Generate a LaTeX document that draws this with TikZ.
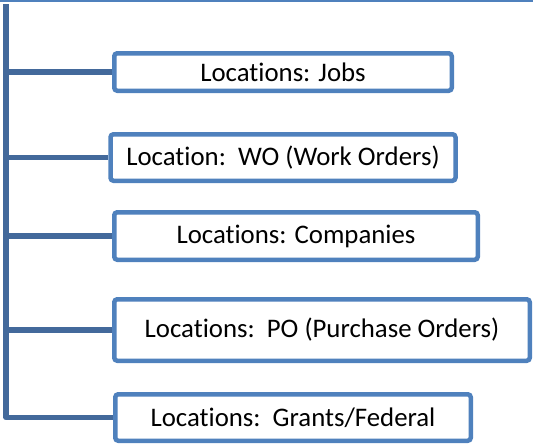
\documentclass[tikz,border=0pt]{standalone}
\usepackage{fontspec}
\setmainfont[Ligatures=NoCommon]{Carlito}
\definecolor{boxblue}{HTML}{4F81BD}
\definecolor{linkblue}{HTML}{43699B}
\begin{document}
\begin{tikzpicture}[x=1pt,y=-1pt,
  item/.style={draw=boxblue,line width=4.5pt,rounded corners=3pt,fill=white,
    inner sep=0pt,font=\fontsize{26.8}{30}\selectfont},
  link/.style={draw=linkblue,line width=5.5pt}]
\useasboundingbox (0,0) rectangle (533,445);
\draw[boxblue,line width=2pt] (0,1) -- (533,1);
\node[item,minimum width=337.5pt,minimum height=37.5pt] (jobs) at (283,72) {Locations: Jobs};
\node[item,minimum width=345pt,minimum height=46.5pt] (wo) at (283,157.5) {Location:\ \ WO (Work Orders)};
\node[item,minimum width=363.5pt,minimum height=47.5pt] (comp) at (296,236) {Locations: Companies};
\node[item,minimum width=415.5pt,minimum height=61.5pt] (po) at (322,330) {Locations:\ \ PO (Purchase Orders)};
\node[item,minimum width=355.5pt,minimum height=46.5pt] (grants) at (293,417.5) {Locations:\ \ Grants/Federal};
\coordinate (top) at (6,4);
\draw[link,line join=round] (top) -- (top |- grants.west) -- (grants.west);
\foreach \n in {jobs,wo,comp,po}
  \draw[link] (top |- \n.west) -- (\n.west);
\end{tikzpicture}
\end{document}
